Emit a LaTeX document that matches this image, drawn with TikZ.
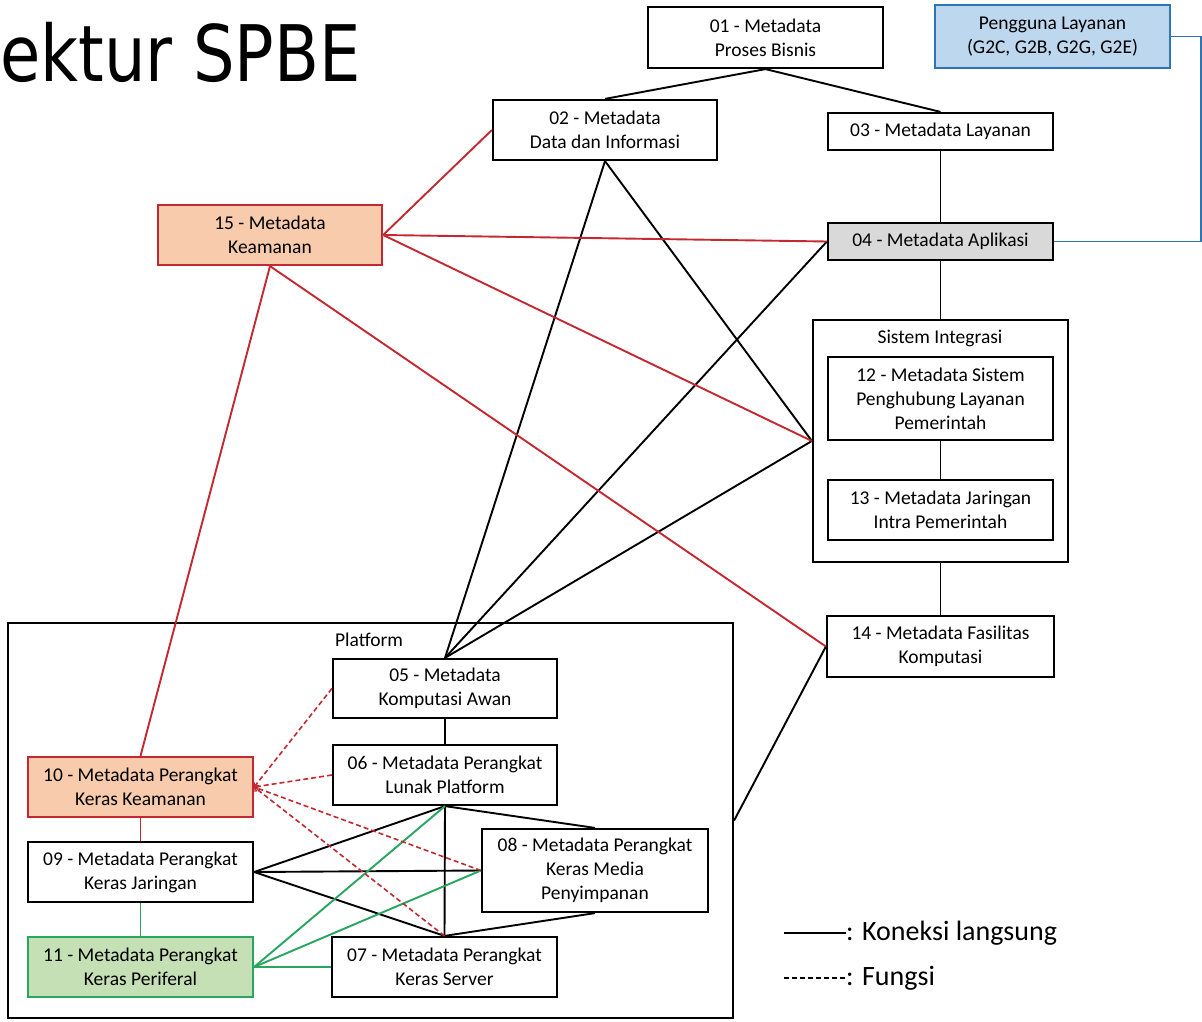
\documentclass[tikz,border=0pt]{standalone}
\usepackage{fontspec}
\setmainfont{Carlito}
\newfontfamily\titlefont[FakeStretch=0.84]{DejaVu Sans}
\usetikzlibrary{calc}

\definecolor{redline}{RGB}{196,40,48}
\definecolor{orangefill}{RGB}{248,203,173}
\definecolor{greenline}{RGB}{40,165,95}
\definecolor{greenfill}{RGB}{197,224,180}
\definecolor{bluefill}{RGB}{189,215,238}
\definecolor{blueline}{RGB}{46,117,182}
\definecolor{grayfill}{RGB}{217,217,217}

\begin{document}
\begin{tikzpicture}[
    x=1pt,
    y=1pt,
    every node/.style={font=\fontsize{19.5}{24}\selectfont, align=center},
    meta/.style={
      draw,
      line width=2.2pt,
      fill=white,
      inner sep=0,
      minimum width=225pt,
      minimum height=60pt
    },
    aman/.style={meta, fill=orangefill, draw=redline},
    periferal/.style={meta, fill=greenfill, draw=greenline},
    group/.style={draw, line width=2.2pt, inner sep=0},
    lurus/.style={line width=1.9pt},
    merah/.style={lurus, draw=redline},
    hijau/.style={lurus, draw=greenline},
    fungsi/.style={line width=1.6pt, draw=redline, dash pattern=on 5pt off 3pt, ->}]
   \useasboundingbox[fill=white] (0,0) rectangle (1202,-1022);

   \node (judul) at (0,-82) [anchor=base west, inner sep=0,
     font=\titlefont\fontsize{78}{90}\selectfont] {ektur SPBE};

   % kotak pengelompokan
   \node (sistem)   at (940.5,-441)   [group, minimum width=255pt, minimum height=242pt] {};
   \node (platform) at (370.5,-820.5) [group, minimum width=725pt, minimum height=395pt] {};
   \node (sistemlbl)   at (940,-338) {Sistem Integrasi};
   \node (platformlbl) at (369,-640) {Platform};

   \path
     node(proses)    at (765.5,-37.5)  [meta, minimum width=235pt, minimum height=61pt] {01 - Metadata\\Proses Bisnis}
     node(pengguna)  at (1052.5,-36.5) [meta, fill=bluefill, draw=blueline, minimum width=235pt, minimum height=63pt]
                                       {Pengguna Layanan\\(G2C, G2B, G2G, G2E)}
     node(data)      at (605,-130)     [meta, minimum width=224pt] {02 - Metadata\\Data dan Informasi}
     node(layanan)   at (940.5,-131.5) [meta, minimum height=37pt] {03 - Metadata Layanan}
     node(keamanan)  at (270,-235)     [aman, minimum width=224pt] {15 - Metadata\\Keamanan}
     node(aplikasi)  at (940.5,-241.5) [meta, fill=grayfill, minimum height=37pt] {04 - Metadata Aplikasi}
     node(spl)       at (940.5,-398.5) [meta, minimum height=83pt] {12 - Metadata Sistem\\Penghubung Layanan\\Pemerintah}
     node(jip)       at (940.5,-510)   [meta] {13 - Metadata Jaringan\\Intra Pemerintah}
     node(fasilitas) at (940.5,-646.5) [meta, minimum width=227pt, minimum height=61pt] {14 - Metadata Fasilitas\\Komputasi};

   \path
     node(awan)        at (445,-688.5)   [meta, minimum width=224pt, minimum height=59pt] {05 - Metadata\\Komputasi Awan}
     node(lunak)       at (445,-775)     [meta, minimum width=224pt] {06 - Metadata Perangkat\\Lunak Platform}
     node(penyimpanan) at (595,-870.5)   [meta, minimum width=226pt, minimum height=83pt]
                                         {08 - Metadata Perangkat\\Keras Media\\Penyimpanan}
     node(server)      at (444.5,-967)   [meta] {07 - Metadata Perangkat\\Keras Server}
     node(pkaman)      at (140.5,-787)   [aman] {10 - Metadata Perangkat\\Keras Keamanan}
     node(jaringan)    at (140.5,-872)   [meta] {09 - Metadata Perangkat\\Keras Jaringan}
     node(pkperiferal) at (140.5,-967)   [periferal] {11 - Metadata Perangkat\\Keras Periferal};

   % koneksi langsung
   \begin{scope}[lurus]
     \draw (proses.south) -- (data.north);
     \draw (proses.south) -- (layanan.north);
     \draw (layanan) -- (aplikasi);
     \draw (aplikasi) -- (sistem);
     \draw (spl) -- (jip);
     \draw (sistem) -- (fasilitas);
     \draw (data.south) -- (awan.north);
     \draw (data.south) -- (sistem.west);
     \draw (aplikasi.west) -- (awan.north);
     \draw (sistem.west) -- (awan.north);
     \draw (fasilitas.west) -- (platform.east);
     \draw (awan) -- (lunak);
     \draw (lunak.south) -- (server.north);
     \draw (lunak.south) -- (penyimpanan.north);
     \draw (penyimpanan.south) -- (server.north);
     \draw (jaringan.east) -- (lunak.south);
     \draw (jaringan.east) -- (penyimpanan.west);
     \draw (jaringan.east) -- (server.north);
   \end{scope}

   \draw[merah] (keamanan.east) -- (data.west);
   \draw[merah] (keamanan.east) -- (aplikasi.west);
   \draw[merah] (keamanan.east) -- (sistem.west);
   \draw[merah] (keamanan.south) -- (pkaman.north);
   \draw[merah] (keamanan.south) -- (fasilitas.west);
   \draw[merah] (pkaman) -- (jaringan);

   \draw[hijau] (jaringan) -- (pkperiferal);
   \draw[hijau] (pkperiferal.east) -- (lunak.south);
   \draw[hijau] (pkperiferal.east) -- (penyimpanan.west);
   \draw[hijau] (pkperiferal.east) -- (server.west);

   \draw[lurus, draw=blueline] (aplikasi.east) -- ++(147,0) |- (pengguna.east);

   % fungsi
   \foreach \src in {awan.west, lunak.west, penyimpanan.west, server.north}
     \draw[fungsi] (\src) -- (pkaman.east);

   % keterangan
   \coordinate (legsolid) at (784,-933);
   \coordinate (legdash)  at (784,-978);
   \node (legkoneksi) at (846,-933) [anchor=west, inner sep=0, font=\fontsize{28}{32}\selectfont] {: Koneksi langsung};
   \node (legfungsi)  at (846,-978) [anchor=west, inner sep=0, font=\fontsize{28}{32}\selectfont] {: Fungsi};
   \draw[line width=1.4pt] (legsolid) -- (legkoneksi.west);
   \draw[line width=1.4pt, dash pattern=on 5pt off 3pt] (legdash) -- (legfungsi.west);
\end{tikzpicture}
\end{document}
